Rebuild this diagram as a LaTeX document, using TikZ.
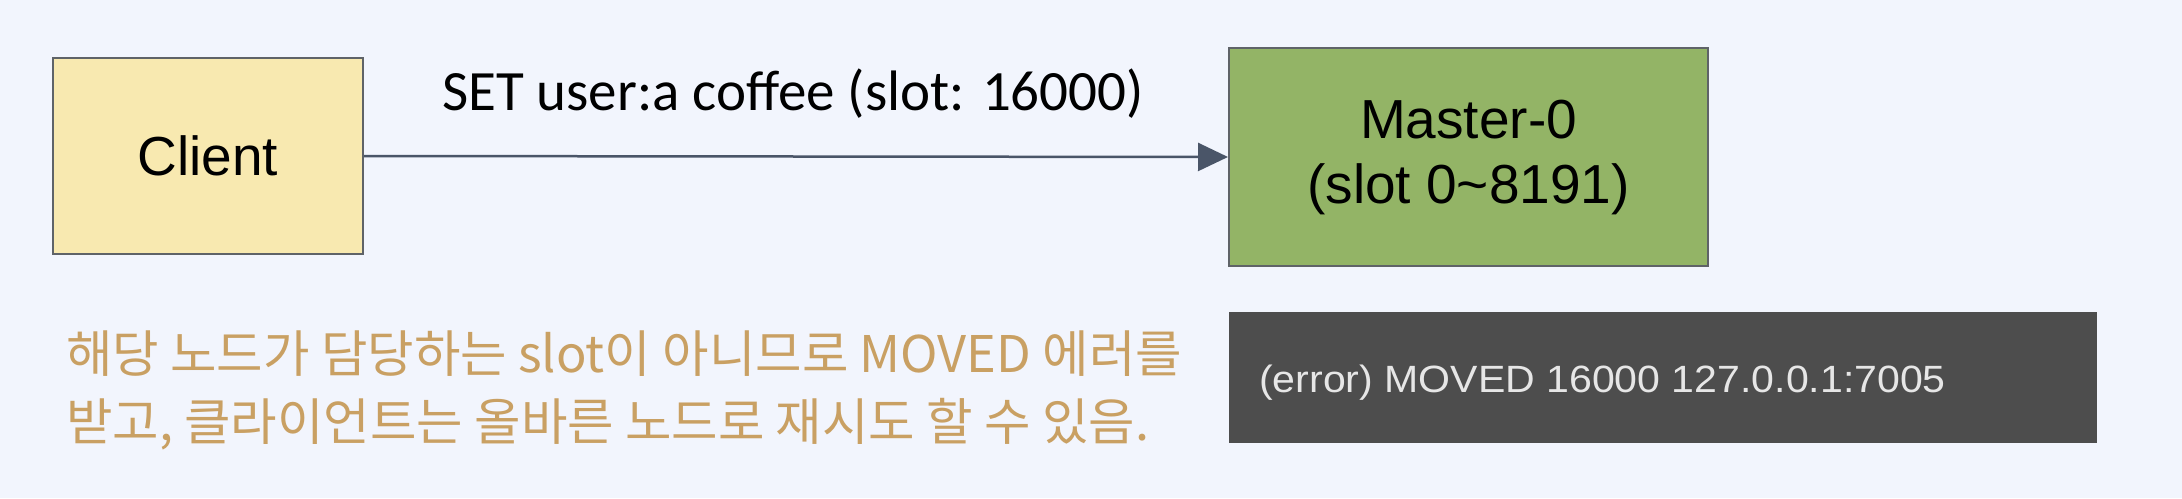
\documentclass[tikz,border=0pt]{standalone}
\usepackage{fontspec}
\setmainfont{Liberation Sans}
\newfontfamily\lblfont{Carlito}
\newfontfamily\krfont{Noto Sans CJK KR}
\newfontfamily\errfont[FakeStretch=1.08]{Liberation Sans}
\usetikzlibrary{arrows.meta}
\definecolor{bgc}{HTML}{F2F5FD}
\definecolor{clientc}{HTML}{F8E9B0}
\definecolor{masterc}{HTML}{93B466}
\definecolor{borderc}{HTML}{5F6368}
\definecolor{arrowc}{HTML}{4A5568}
\definecolor{errc}{HTML}{4D4D4D}
\definecolor{errtext}{HTML}{E6E6E6}
\definecolor{notec}{HTML}{C9A063}
\tikzset{
  box/.style={draw=borderc, line width=2pt, inner sep=0pt, align=center, font=\fontsize{55}{65}\selectfont},
  conn/.style={draw=arrowc, line width=2.5pt, -{Triangle[length=30pt,width=28pt]}},
  note/.style={anchor=base west, inner sep=0pt, text=notec, font=\krfont\fontsize{50.5}{60}\selectfont},
}
\begin{document}
\begin{tikzpicture}[x=1pt,y=-1pt]
\fill[bgc] (0,0) rectangle (2182,498);
\useasboundingbox (0,0) rectangle (2182,498);
\node[box, fill=clientc, minimum width=310pt, minimum height=196pt] (client) at (208,156) {Client};
\node[box, fill=masterc, minimum width=479pt, minimum height=218pt] (master) at (1468.5,157) {Master-0\\(slot 0\textasciitilde8191)};
\node[fill=errc, minimum width=868pt, minimum height=131pt, inner sep=0pt] (err) at (1663,377.5) {};
\node[anchor=base west, text=errtext, inner sep=0pt, font=\errfont\fontsize{38}{46}\selectfont] (errtxt) at (1259,392) {(error) MOVED 16000 127.0.0.1:7005};
\draw[conn] (client.east) -- (master.west);
\node[anchor=base, inner sep=0pt, font=\lblfont\fontsize{57}{66}\selectfont] (lbl) at (793,110) {SET user:a coffee (slot: 16000)};
\node[note] (note1) at (66,372) {해당 노드가 담당하는 slot이 아니므로 MOVED 에러를};
\node[note] (note2) at (66,440) {받고, 클라이언트는 올바른 노드로 재시도 할 수 있음.};
\end{tikzpicture}
\end{document}
